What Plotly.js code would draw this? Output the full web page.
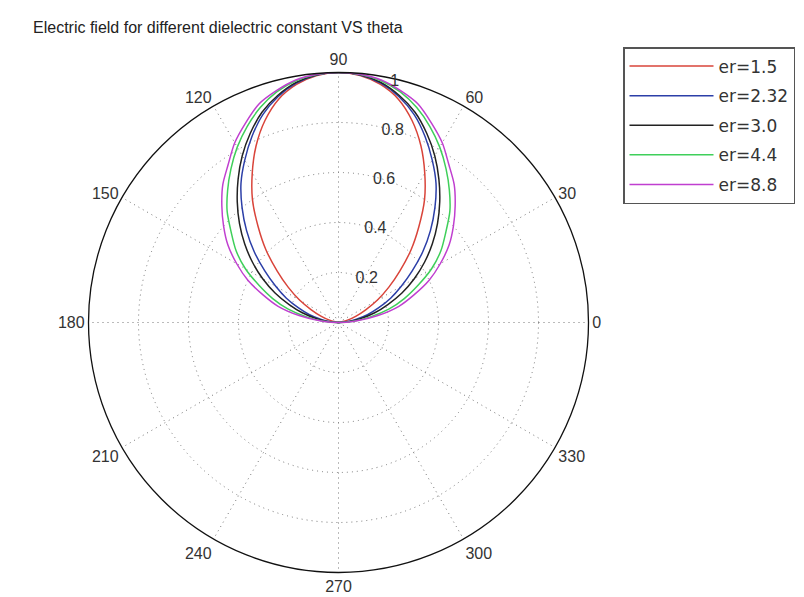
<!DOCTYPE html>
<html>
<head>
<meta charset="utf-8">
<script src="https://cdn.plot.ly/plotly-3.0.1.min.js"></script>
<style>html,body{margin:0;padding:0;background:#fff;}#plot{width:804px;height:597px;}</style>
</head>
<body>
<div id="plot"></div>
<script>
// Angles in degrees (0..180), pattern symmetric about 90
var theta = [0,5,10,15,20,25,30,35,40,45,50,55,60,65,70,75,80,85,90,
             95,100,105,110,115,120,125,130,135,140,145,150,155,160,165,170,175,180];

// values read for 0..90; the right half mirrors them
var er15half  = [0,0.003,0.015,0.04,0.075,0.12,0.18,0.245,0.32,0.41,0.50,0.60,0.69,0.78,0.86,0.925,0.967,0.992,1.0];
var er232half = [0,0.03,0.07,0.12,0.17,0.23,0.29,0.36,0.44,0.52,0.60,0.68,0.75,0.82,0.885,0.935,0.972,0.994,1.0];
var er30half  = [0,0.04,0.09,0.15,0.21,0.28,0.35,0.42,0.49,0.56,0.63,0.70,0.77,0.835,0.895,0.94,0.975,0.995,1.0];
var er44half  = [0,0.06,0.13,0.21,0.28,0.35,0.43,0.50,0.56,0.63,0.69,0.75,0.81,0.865,0.915,0.955,0.982,0.996,1.0];
var er88half  = [0,0.07,0.16,0.25,0.32,0.40,0.47,0.54,0.60,0.66,0.72,0.77,0.83,0.88,0.93,0.96,0.985,0.997,1.0];

function mirror(h){ return h.concat(h.slice(0, h.length - 1).reverse()); }

var seriesNames = ['er=1.5','er=2.32','er=3.0','er=4.4','er=8.8'];
var seriesData = [mirror(er15half), mirror(er232half), mirror(er30half), mirror(er44half), mirror(er88half)];
var seriesColors = ['#d9443a','#2c3fa8','#222222','#3fcf5a','#c03fd0'];

var angTicks = [0,30,60,90,120,150,180,210,240,270,300,330];
var angLabels = ['0','30','60','90','120','150','180','210','240','270','300','330'];
var radTicks = [0.2,0.4,0.6,0.8,1];
var radLabels = ['0.2','0.4','0.6','0.8','1'];

var traces = seriesData.map(function(r, i){
  return {
    type: 'scatterpolar',
    mode: 'lines',
    r: r,
    theta: theta,
    name: seriesNames[i],
    legendgroup: 'g' + i,
    line: {color: seriesColors[i], width: 1.5, shape: 'spline', smoothing: 0.8}
  };
});

var R = 250, cx = 338.5, cy = 322.5, W = 804, H = 597;
var layout = {
  width: W, height: H,
  margin: {l:0, r:0, t:0, b:0},
  paper_bgcolor: '#fff',
  font: {family: 'Arial, Liberation Sans, sans-serif', color: '#333'},
  title: {
    text: 'Electric field for different dielectric constant VS theta',
    x: 33/W, xanchor: 'left', xref: 'container',
    y: 1 - 27/H, yanchor: 'middle', yref: 'container',
    font: {size: 16, color: '#222', family: 'Arial, Liberation Sans, sans-serif'}
  },
  showlegend: true,
  legend: {
    x: 623/W, xanchor: 'left', y: 1 - 47/H, yanchor: 'top',
    bordercolor: '#555', borderwidth: 1.5, bgcolor: '#fff',
    font: {size: 17, color: '#333', family: 'DejaVu Sans, sans-serif'},
    itemwidth: 84, tracegroupgap: 4.5
  },
  polar: {
    domain: {x: [(cx - R)/W, (cx + R)/W], y: [(H - cy - R)/H, (H - cy + R)/H]},
    bgcolor: '#fff',
    angularaxis: {
      rotation: 0, direction: 'counterclockwise',
      tickmode: 'array', tickvals: angTicks, ticktext: angLabels,
      ticks: '', showline: true, linecolor: '#111', linewidth: 1.3,
      showgrid: true, gridcolor: '#777', gridwidth: 1, griddash: '1px,4px',
      tickfont: {size: 16, color: '#333'}
    },
    radialaxis: {
      range: [0, 1], angle: 80, tickangle: 80,
      tickmode: 'array', tickvals: radTicks, ticktext: radLabels,
      ticks: '', showline: false,
      showgrid: true, gridcolor: '#777', gridwidth: 1, griddash: '1px,4px',
      tickfont: {size: 16, color: '#333'}
    }
  }
};

Plotly.newPlot('plot', traces, layout, {displayModeBar: false, staticPlot: true});
</script>
</body>
</html>
